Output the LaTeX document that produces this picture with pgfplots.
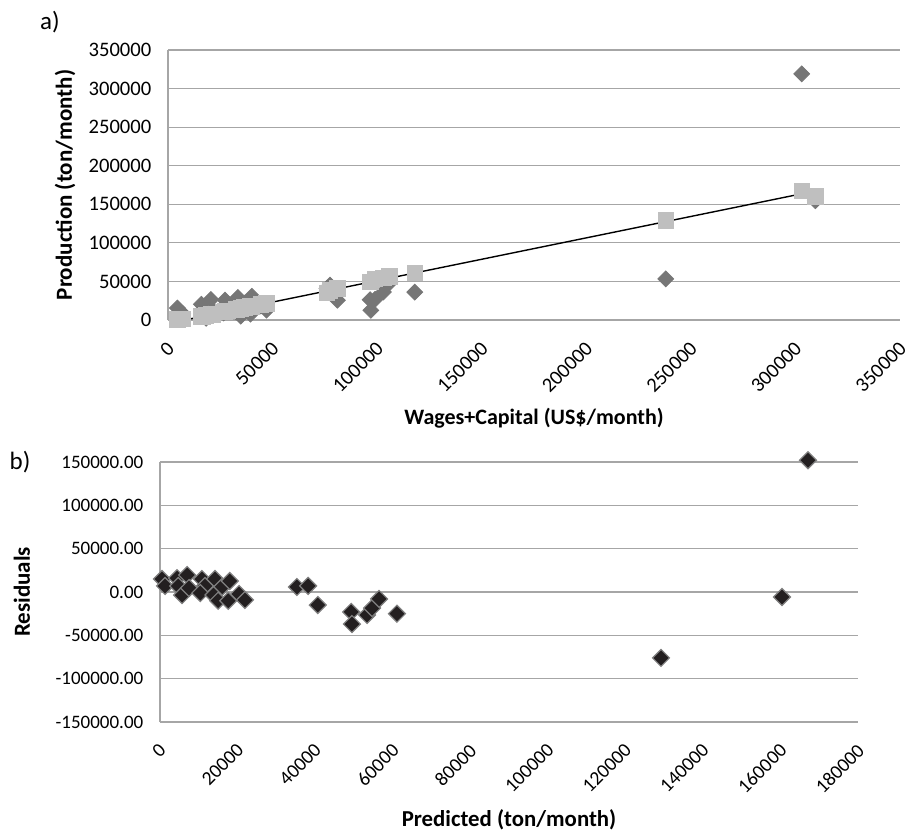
\documentclass[border=0pt]{standalone}
\usepackage{pgfplots}
\pgfplotsset{compat=1.18}
\usepackage{pgfplotstable}
\usepackage{fontspec}
\setmainfont{Carlito}
\definecolor{obsgray}{HTML}{767676}
\definecolor{predgray}{HTML}{BFBFBF}
\definecolor{gridgray}{HTML}{A6A6A6}
\definecolor{resblack}{HTML}{231F20}
\pgfplotstableread{
x obs pred res
4500 15500 500 15000
7000 8300 1300 7000
16000 20400 4400 16000
20500 26600 7000 19600
16500 11700 4700 7000
18200 2200 5700 -3500
21400 12100 7500 4600
27300 25800 10800 15000
28700 18600 11600 7000
26600 9200 10400 -1200
33400 29200 14200 15000
36600 21800 16000 5800
32600 10300 13800 -3500
34800 5000 15000 -10000
40100 30700 18000 12700
39400 7600 17600 -10000
44400 18100 20400 -2300
47100 12700 21900 -9200
76000 41100 35300 5800
77500 45200 38200 7000
81000 25700 40700 -15000
96600 26300 49300 -23000
97000 12500 49500 -37000
99000 26900 53400 -26500
103000 36200 54700 -18500
106000 48500 56500 -8000
118000 36100 61100 -25000
238000 53200 129200 -76000
309500 154600 160400 -5800
303000 319100 167100 152000
}\data
\begin{document}
\fontsize{9.5pt}{11pt}\selectfont
\begin{tikzpicture}
\useasboundingbox (0,0) rectangle (452.5pt,-415pt);
\pgfplotsset{
  myaxis/.style={
    scale only axis,
    scaled ticks=false,
    axis x line*=bottom, axis y line*=left,
    axis line style={gridgray, line width=0.6pt},
    ymajorgrids, grid style={gridgray, line width=0.6pt},
    major tick length=0pt,
    /pgf/number format/assume math mode=true,
    yticklabel style={font=\fontsize{9.5pt}{11pt}\selectfont, xshift=-5pt},
    clip=false,
  }
}
\begin{axis}[myaxis,
  at={(84pt,-160pt)}, anchor=south west,
  width=366pt, height=135pt,
  xmin=0, xmax=350000, ymin=0, ymax=350000,
  xtick={0,50000,...,350000}, ytick={0,50000,...,350000},
  xticklabels={0,50000,100000,150000,200000,250000,300000,350000},
  yticklabels={0,50000,100000,150000,200000,250000,300000,350000},
  xticklabel style={font=\fontsize{10.2pt}{11pt}\selectfont, xshift=-1pt, yshift=-10pt, rotate=45, anchor=north east, inner sep=0pt},
  yticklabel style={font=\fontsize{10.3pt}{11pt}\selectfont},
  xlabel={Wages+Capital (US\$/month)},
  ylabel={Production (ton/month)},
  xlabel style={at={(axis description cs:0.5,-0.363)}, anchor=center, font=\fontsize{11pt}{12pt}\selectfont\bfseries},
  ylabel style={at={(axis description cs:-0.1407,0.5)}, anchor=center, font=\fontsize{11.5pt}{12pt}\selectfont\bfseries},
]
\addplot[only marks, mark=square*, mark size=2.8pt, mark options={rotate=45, fill=obsgray, draw=obsgray}] table[x=x, y=obs] {\data};
\addplot[only marks, mark=square*, mark size=3.9pt, mark options={fill=predgray, draw=predgray}] table[x=x, y=pred] {\data};
\addplot[black, line width=0.7pt, no marks] coordinates {(8100,0) (310000,167500)};
\end{axis}
\node[font=\fontsize{12.5pt}{14pt}\selectfont] at (25pt,-11pt) {a)};
\begin{axis}[myaxis,
  at={(80pt,-361pt)}, anchor=south west,
  width=349pt, height=130pt,
  xmin=0, xmax=180000, ymin=-150000, ymax=150000,
  xtick={0,20000,...,180000}, ytick={-150000,-100000,...,150000},
  xticklabels={0,20000,40000,60000,80000,100000,120000,140000,160000,180000},
  yticklabels={-150000.00,-100000.00,-50000.00,0.00,50000.00,100000.00,150000.00},
  xticklabel style={font=\fontsize{9.8pt}{11pt}\selectfont, xshift=-1pt, yshift=-10pt, rotate=45, anchor=north east, inner sep=0pt},
  xlabel={Predicted (ton/month)},
  ylabel={Residuals},
  xlabel style={at={(axis description cs:0.5,-0.377)}, anchor=center, font=\fontsize{11.4pt}{12pt}\selectfont\bfseries},
  ylabel style={at={(axis description cs:-0.1977,0.5)}, anchor=center, font=\fontsize{11.5pt}{12pt}\selectfont\bfseries},
]
\addplot[only marks, mark=square*, mark size=3pt, mark options={rotate=45, fill=resblack, draw=gray, line width=0.6pt}] table[x=pred, y=res] {\data};
\end{axis}
\node[font=\fontsize{12.5pt}{14pt}\selectfont] at (10pt,-231pt) {b)};
\end{tikzpicture}
\end{document}
